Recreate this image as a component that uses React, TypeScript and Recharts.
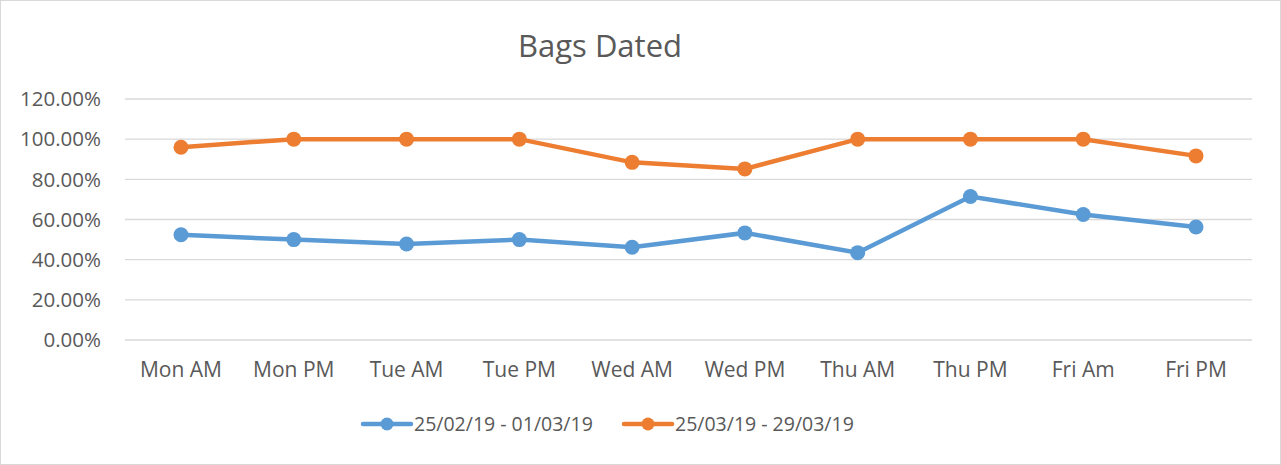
import React from 'react';
import { LineChart, Line, XAxis, YAxis, CartesianGrid } from 'recharts';

const categories = ['Mon AM', 'Mon PM', 'Tue AM', 'Tue PM', 'Wed AM', 'Wed PM', 'Thu AM', 'Thu PM', 'Fri Am', 'Fri PM'];
const seriesFeb = [0.5238, 0.5, 0.4783, 0.5, 0.4615, 0.5333, 0.4348, 0.7143, 0.625, 0.5625];
const seriesMar = [0.96, 1.0, 1.0, 1.0, 0.8846, 0.8519, 1.0, 1.0, 1.0, 0.9167];
const seriesNames = ['25/02/19 - 01/03/19', '25/03/19 - 29/03/19'];
const yTicks = [0, 0.2, 0.4, 0.6, 0.8, 1.0, 1.2];
const colors = ['#5B9BD5', '#ED7D31'];

const data = categories.map((c, i) => ({ name: c, feb: seriesFeb[i], mar: seriesMar[i] }));

const FONT = '"Open Sans", "Liberation Sans", sans-serif';
const TEXT = '#595959';

export default function App() {
  return (
    <div style={{ position: 'absolute', left: 0, top: 0, width: 1281, height: 465, background: '#fff' }}>
      <div style={{ position: 'absolute', left: 0, top: 0, width: 1281, height: 465, boxSizing: 'border-box', border: '1px solid #D9D9D9' }} />
      <LineChart width={1281} height={465} data={data} margin={{ top: 99, right: 29, bottom: 65, left: 0 }}>
        <CartesianGrid vertical={false} stroke="#D9D9D9" strokeWidth={1.3} />
        <XAxis
          dataKey="name"
          axisLine={false}
          tickLine={false}
          tickSize={0}
          tickMargin={22}
          height={60}
          interval={0}
          padding={{ left: 56, right: 56 }}
          tick={{ fill: TEXT, fontSize: 21, fontFamily: FONT }}
        />
        <YAxis
          domain={[0, 1.2]}
          ticks={yTicks}
          width={125}
          axisLine={false}
          tickLine={false}
          tickSize={0}
          tickMargin={24}
          tickFormatter={(v: number) => (v * 100).toFixed(2) + '%'}
          tick={{ fill: TEXT, fontSize: 20.5, fontFamily: FONT }}
        />
        <Line dataKey="feb" name={seriesNames[0]} stroke={colors[0]} strokeWidth={4.5} isAnimationActive={false}
          dot={{ r: 7.5, fill: colors[0], stroke: 'none' }} activeDot={false} />
        <Line dataKey="mar" name={seriesNames[1]} stroke={colors[1]} strokeWidth={4.5} isAnimationActive={false}
          dot={{ r: 7.5, fill: colors[1], stroke: 'none' }} activeDot={false} />
      </LineChart>
      <svg width={1281} height={465} style={{ position: 'absolute', left: 0, top: 0, pointerEvents: 'none' }}>
        <text x={600} y={57} textAnchor="middle" fill={TEXT} fontSize={31} fontFamily={FONT}>Bags Dated</text>
        {[363, 624].map((x0, i) => (
          <g key={i}>
            <line x1={x0} x2={x0 + 48} y1={424} y2={424} stroke={colors[i]} strokeWidth={4.5} strokeLinecap="round" />
            <circle cx={x0 + 24} cy={424} r={6.5} fill={colors[i]} />
            <text x={x0 + 51} y={431} fill={TEXT} fontSize={19.5} fontFamily={FONT}>{seriesNames[i]}</text>
          </g>
        ))}
      </svg>
    </div>
  );
}
